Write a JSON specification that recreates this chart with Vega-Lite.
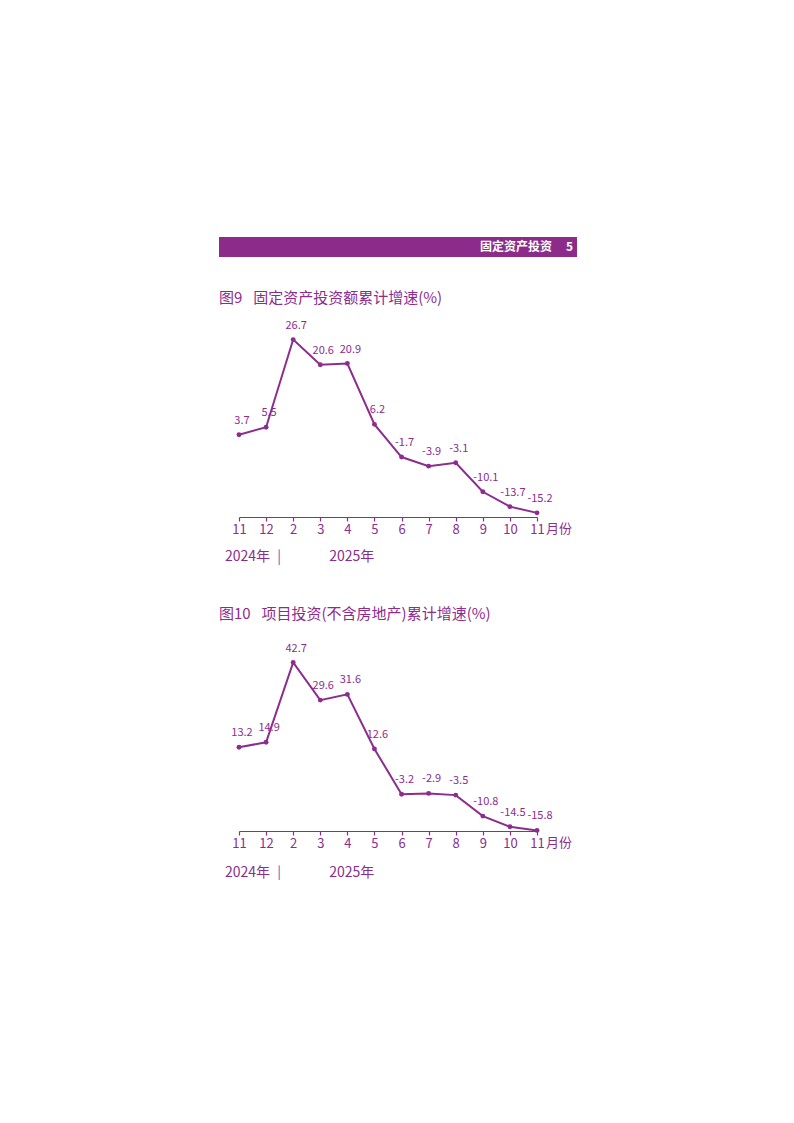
{
  "$schema": "https://vega.github.io/schema/vega-lite/v6.json",
  "background": "white",
  "padding": {"left": 219, "top": 237, "right": 0, "bottom": 0},
  "config": {
    "font": "Noto Sans CJK SC",
    "view": {"stroke": null},
    "title": {"font": "Noto Sans CJK SC", "fontSize": 15, "fontWeight": "normal", "color": "#8c2d8e", "anchor": "start", "frame": "group", "baseline": "bottom"},
    "axisX": {
      "title": null, "grid": false, "labelAngle": 0,
      "domainColor": "#8c2d8e", "domainWidth": 1.2,
      "tickColor": "#8c2d8e", "tickSize": 4, "tickWidth": 1.2,
      "labelColor": "#8c2d8e", "labelFont": "Noto Sans CJK SC", "labelFontSize": 13, "labelPadding": 2,
      "labelExpr": "toNumber(split(datum.value, '-')[1]) + ''"
    },
    "text": {"font": "Noto Sans CJK SC"}
  },
  "datasets": {
    "fai": [
      {"period": "2024-11", "rate": 3.7},
      {"period": "2024-12", "rate": 5.5},
      {"period": "2025-02", "rate": 26.7},
      {"period": "2025-03", "rate": 20.6},
      {"period": "2025-04", "rate": 20.9},
      {"period": "2025-05", "rate": 6.2},
      {"period": "2025-06", "rate": -1.7},
      {"period": "2025-07", "rate": -3.9},
      {"period": "2025-08", "rate": -3.1},
      {"period": "2025-09", "rate": -10.1},
      {"period": "2025-10", "rate": -13.7},
      {"period": "2025-11", "rate": -15.2}
    ],
    "project": [
      {"period": "2024-11", "rate": 13.2},
      {"period": "2024-12", "rate": 14.9},
      {"period": "2025-02", "rate": 42.7},
      {"period": "2025-03", "rate": 29.6},
      {"period": "2025-04", "rate": 31.6},
      {"period": "2025-05", "rate": 12.6},
      {"period": "2025-06", "rate": -3.2},
      {"period": "2025-07", "rate": -2.9},
      {"period": "2025-08", "rate": -3.5},
      {"period": "2025-09", "rate": -10.8},
      {"period": "2025-10", "rate": -14.5},
      {"period": "2025-11", "rate": -15.8}
    ]
  },
  "spacing": 34,
  "vconcat": [
    {
      "width": 358,
      "height": 20,
      "view": {"fill": "#8d2b8b", "stroke": null},
      "data": {"values": [{"section": "固定资产投资", "page": "5"}]},
      "encoding": {
        "x": {"datum": 1, "type": "quantitative", "scale": {"domain": [0, 1]}, "axis": null}
      },
      "layer": [
        {
          "mark": {"type": "text", "align": "right", "baseline": "middle", "dx": -25, "color": "white", "fontSize": 12, "fontWeight": "bold"},
          "encoding": {"text": {"field": "section"}}
        },
        {
          "mark": {"type": "text", "align": "right", "baseline": "middle", "dx": -4, "color": "white", "fontSize": 12, "fontWeight": "bold"},
          "encoding": {"text": {"field": "page"}}
        }
      ]
    },
    {
      "spacing": 42,
      "vconcat": [
        {
          "width": 358,
          "height": 201,
          "title": {"text": "图9\u2002 固定资产投资额累计增速(%)", "offset": 10},
          "data": {"name": "fai"},
          "encoding": {
            "x": {
              "field": "period", "type": "ordinal",
              "scale": {"type": "point", "padding": 0, "range": [20, 318],
                "domain": ["2024-11", "2024-12", "2025-02", "2025-03", "2025-04", "2025-05", "2025-06", "2025-07", "2025-08", "2025-09", "2025-10", "2025-11"]}
            },
            "y": {"field": "rate", "type": "quantitative", "scale": {"domain": [-16.2, 32.4], "nice": false, "zero": false}, "axis": null}
          },
          "layer": [
            {"mark": {"type": "line", "color": "#8c2d8e", "strokeWidth": 2}},
            {"mark": {"type": "point", "filled": true, "opacity": 1, "size": 24, "color": "#8c2d8e"}},
            {
              "mark": {"type": "text", "dx": 3, "dy": -14, "baseline": "middle", "fontSize": 11, "color": "#8c2d8e"},
              "encoding": {"text": {"field": "rate", "type": "nominal"}}
            },
            {
              "transform": [{"filter": "datum.period == '2025-11'"}],
              "mark": {"type": "text", "align": "left", "baseline": "middle", "dx": 9, "dy": 12, "fontSize": 13, "color": "#8c2d8e"},
              "encoding": {"y": {"datum": -16.2, "type": "quantitative"}, "text": {"value": "月份"}}
            },
            {
              "transform": [{"filter": "datum.period == '2024-11'"}],
              "mark": {"type": "text", "align": "left", "baseline": "middle", "dx": -14, "dy": 40, "fontSize": 14, "color": "#8c2d8e"},
              "encoding": {"y": {"datum": -16.2, "type": "quantitative"}, "text": {"value": "2024年"}}
            },
            {
              "transform": [{"filter": "datum.period == '2024-12'"}],
              "mark": {"type": "text", "align": "center", "baseline": "middle", "dx": 13, "dy": 40, "fontSize": 14, "color": "#6b5bb5"},
              "encoding": {"y": {"datum": -16.2, "type": "quantitative"}, "text": {"value": "|"}}
            },
            {
              "transform": [{"filter": "datum.period == '2025-03'"}],
              "mark": {"type": "text", "align": "left", "baseline": "middle", "dx": 9, "dy": 40, "fontSize": 14, "color": "#8c2d8e"},
              "encoding": {"y": {"datum": -16.2, "type": "quantitative"}, "text": {"value": "2025年"}}
            }
          ]
        },
        {
          "width": 358,
          "height": 188,
          "title": {"text": "图10\u2002 项目投资(不含房地产)累计增速(%)", "offset": 21},
          "data": {"name": "project"},
          "encoding": {
            "x": {
              "field": "period", "type": "ordinal",
              "scale": {"type": "point", "padding": 0, "range": [20, 318],
                "domain": ["2024-11", "2024-12", "2025-02", "2025-03", "2025-04", "2025-05", "2025-06", "2025-07", "2025-08", "2025-09", "2025-10", "2025-11"]}
            },
            "y": {"field": "rate", "type": "quantitative", "scale": {"domain": [-16, 49.5], "nice": false, "zero": false}, "axis": null}
          },
          "layer": [
            {"mark": {"type": "line", "color": "#8c2d8e", "strokeWidth": 2}},
            {"mark": {"type": "point", "filled": true, "opacity": 1, "size": 24, "color": "#8c2d8e"}},
            {
              "mark": {"type": "text", "dx": 3, "dy": -14, "baseline": "middle", "fontSize": 11, "color": "#8c2d8e"},
              "encoding": {"text": {"field": "rate", "type": "nominal"}}
            },
            {
              "transform": [{"filter": "datum.period == '2025-11'"}],
              "mark": {"type": "text", "align": "left", "baseline": "middle", "dx": 9, "dy": 12, "fontSize": 13, "color": "#8c2d8e"},
              "encoding": {"y": {"datum": -16, "type": "quantitative"}, "text": {"value": "月份"}}
            },
            {
              "transform": [{"filter": "datum.period == '2024-11'"}],
              "mark": {"type": "text", "align": "left", "baseline": "middle", "dx": -14, "dy": 42, "fontSize": 14, "color": "#8c2d8e"},
              "encoding": {"y": {"datum": -16, "type": "quantitative"}, "text": {"value": "2024年"}}
            },
            {
              "transform": [{"filter": "datum.period == '2024-12'"}],
              "mark": {"type": "text", "align": "center", "baseline": "middle", "dx": 13, "dy": 42, "fontSize": 14, "color": "#6b5bb5"},
              "encoding": {"y": {"datum": -16, "type": "quantitative"}, "text": {"value": "|"}}
            },
            {
              "transform": [{"filter": "datum.period == '2025-03'"}],
              "mark": {"type": "text", "align": "left", "baseline": "middle", "dx": 9, "dy": 42, "fontSize": 14, "color": "#8c2d8e"},
              "encoding": {"y": {"datum": -16, "type": "quantitative"}, "text": {"value": "2025年"}}
            }
          ]
        }
      ]
    }
  ]
}
